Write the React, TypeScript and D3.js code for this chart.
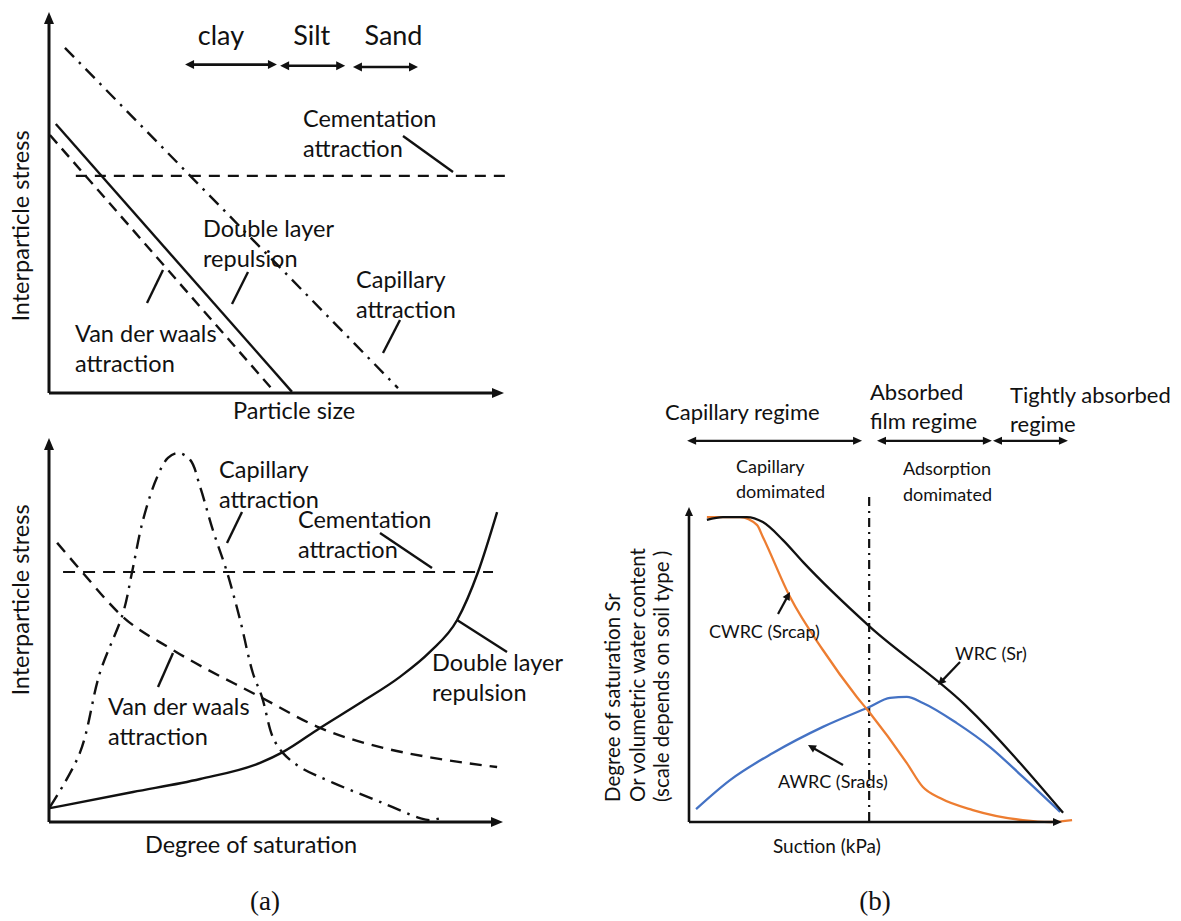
import React from "react";
import * as d3 from "d3";

type Pt = [number, number];

// ---------- (a) upper: interparticle stress vs particle size (values in % of axis length)
const sizeCapillary: Pt[] = [[3.5, 90.6], [76.7, 1.3]];
const sizeDoubleLayer: Pt[] = [[1.5, 70.6], [53.4, 0.3]];
const sizeVanDerWaals: Pt[] = [[0.2, 67.7], [49.2, 0.8]];
const sizeCementation: Pt[] = [[5.9, 57.0], [100.2, 57.0]];
const soilClasses = ["clay", "Silt", "Sand"];
const soilRanges: [number, number][] = [[29.9, 50.1], [50.8, 65.1], [66.8, 81.1]];
const soilArrowLevel = 86.2;

// ---------- (a) lower: interparticle stress vs degree of saturation
const satCapillary: Pt[] = [
  [0.2, 3.9], [6.8, 18.0], [11.2, 38.8], [16.3, 54.4], [18.3, 65.1], [20.7, 78.6],
  [23.8, 89.8], [26.2, 94.8], [28.4, 96.1], [31.1, 94.3], [33.3, 87.2], [36.1, 76.0],
  [39.2, 65.1], [42.1, 52.6], [44.9, 38.8], [46.9, 32.6], [49.3, 22.1], [51.5, 18.0],
  [55.3, 14.3], [62.6, 10.2], [73.6, 4.9], [81.7, 1.0], [83.9, 0.5], [87.2, 1.3],
];
const satVanDerWaals: Pt[] = [
  [1.8, 72.7], [7.3, 65.1], [16.3, 53.4], [27.3, 44.8], [46.5, 32.6], [59.7, 24.5],
  [73.6, 19.3], [84.6, 16.7], [98.7, 14.3],
];
const satDoubleLayer: Pt[] = [
  [0.2, 3.6], [18.5, 7.8], [33.3, 11.2], [46.5, 15.4], [51.5, 18.2], [59.7, 24.5],
  [68.5, 31.0], [77.3, 37.8], [83.9, 44.3], [89.9, 52.6], [94.5, 65.1], [98.7, 80.7],
];
const satCementation: Pt[] = [[3.1, 65.1], [97.8, 65.1]];

// ---------- (b) water retention curves vs suction
const wrcSr: Pt[] = [
  [4.8, 95.9], [9.1, 96.8], [15.5, 96.8], [19.8, 95.2], [25.2, 89.5], [30.6, 82.5],
  [48.3, 62.2], [74.0, 37.2], [100.3, 2.9],
];
const cwrcSrcap: Pt[] = [
  [4.8, 96.8], [13.7, 96.8], [18.2, 94.3], [19.8, 90.5], [27.1, 71.4], [35.9, 54.6],
  [45.0, 39.7], [48.3, 34.9], [58.4, 18.7], [62.7, 11.1], [67.3, 7.6], [76.1, 3.8],
  [89.5, 0.6], [96.8, 0.0], [102.7, 0.6],
];
const awrcSrads: Pt[] = [
  [1.9, 4.1], [11.0, 13.3], [22.5, 21.9], [35.9, 30.2], [48.3, 36.5], [53.9, 39.4],
  [58.4, 39.7], [62.7, 37.8], [71.8, 31.4], [80.7, 23.8], [89.5, 14.3], [99.5, 3.2],
];
const regimeBoundary = 48.3;
const regimeRanges: [number, number][] = [[-0.5, 46.4], [50.4, 81.2], [81.5, 101.6]];
const regimeArrowLevel = 121;

const FONT = "Lato, 'Open Sans', sans-serif";
const INK = "#111";

function headPath(x1: number, y1: number, x2: number, y2: number, len: number, half: number) {
  const a = Math.atan2(y2 - y1, x2 - x1);
  const bx = x2 - len * Math.cos(a);
  const by = y2 - len * Math.sin(a);
  const px = -Math.sin(a) * half;
  const py = Math.cos(a) * half;
  return `M${x2},${y2}L${bx + px},${by + py}L${bx - px},${by - py}Z`;
}

function Arrow({ x1, y1, x2, y2, len = 9, half = 4.5, sw = 2, both = false }: any) {
  const a = Math.atan2(y2 - y1, x2 - x1);
  const sx = both ? x1 + Math.cos(a) * len * 0.8 : x1;
  const sy = both ? y1 + Math.sin(a) * len * 0.8 : y1;
  const ex = x2 - Math.cos(a) * len * 0.8;
  const ey = y2 - Math.sin(a) * len * 0.8;
  return (
    <g>
      <line x1={sx} y1={sy} x2={ex} y2={ey} stroke={INK} strokeWidth={sw} />
      <path d={headPath(x1, y1, x2, y2, len, half)} fill={INK} />
      {both && <path d={headPath(x2, y2, x1, y1, len, half)} fill={INK} />}
    </g>
  );
}

function Label({ x, y, size, lines, lh }: { x: number; y: number; size: number; lines: string[]; lh?: number }) {
  return (
    <text x={x} y={y} fontSize={size} fontFamily={FONT} fill={INK}>
      {lines.map((t, i) => (
        <tspan key={i} x={x} dy={i === 0 ? 0 : lh ?? size * 1.3}>
          {t}
        </tspan>
      ))}
    </text>
  );
}

function Leader({ x1, y1, x2, y2 }: any) {
  return <line x1={x1} y1={y1} x2={x2} y2={y2} stroke={INK} strokeWidth={2.4} />;
}

function PanelSize() {
  const x = d3.scaleLinear().domain([0, 100]).range([49, 504]);
  const y = d3.scaleLinear().domain([0, 100]).range([393, 12]);
  const line = d3.line<Pt>().x((d) => x(d[0])).y((d) => y(d[1]));
  const fs = 23.5;
  return (
    <g>
      <path d={line(sizeCementation) ?? ""} fill="none" stroke={INK} strokeWidth={2.2} strokeDasharray="11,8" />
      <path d={line(sizeCapillary) ?? ""} fill="none" stroke={INK} strokeWidth={2.4} strokeDasharray="13,7,2.5,7" />
      <path d={line(sizeVanDerWaals) ?? ""} fill="none" stroke={INK} strokeWidth={2.4} strokeDasharray="11,7" />
      <path d={line(sizeDoubleLayer) ?? ""} fill="none" stroke={INK} strokeWidth={2.4} />
      <Arrow x1={x(0)} y1={y(0)} x2={x(0)} y2={y(100)} len={12} half={5} sw={3} />
      <Arrow x1={x(0)} y1={y(0)} x2={x(100)} y2={y(0)} len={12} half={5} sw={3} />
      {soilRanges.map((r, i) => (
        <Arrow key={i} x1={x(r[0])} y1={y(soilArrowLevel) + i * 1.2} x2={x(r[1])} y2={y(soilArrowLevel) + i * 1.2} len={9} half={4.5} sw={2.6} both />
      ))}
      {soilClasses.map((c, i) => (
        <text key={c} x={(x(soilRanges[i][0]) + x(soilRanges[i][1])) / 2 + [-10, -1, 8][i]} y={45} fontSize={27} fontFamily={FONT} fill={INK} textAnchor="middle">
          {c}
        </text>
      ))}
      <Label x={303} y={127} size={fs} lh={30} lines={["Cementation", "attraction"]} />
      <Leader x1={403} y1={136} x2={453} y2={172} />
      <Label x={203} y={237} size={fs} lh={30} lines={["Double layer", "repulsion"]} />
      <Leader x1={248} y1={272} x2={232} y2={304} />
      <Label x={356} y={288} size={fs} lh={30} lines={["Capillary", "attraction"]} />
      <Leader x1={400} y1={320} x2={383} y2={353} />
      <Label x={75} y={342} size={fs} lh={30} lines={["Van der waals", "attraction"]} />
      <Leader x1={163} y1={270} x2={147} y2={303} />
      <text x={233} y={419} fontSize={fs} fontFamily={FONT} fill={INK}>Particle size</text>
      <text transform="translate(29,226) rotate(-90)" textAnchor="middle" fontSize={fs} fontFamily={FONT} fill={INK}>
        Interparticle stress
      </text>
    </g>
  );
}

function PanelSaturation() {
  const x = d3.scaleLinear().domain([0, 100]).range([49, 503]);
  const y = d3.scaleLinear().domain([0, 100]).range([822, 438]);
  const straight = d3.line<Pt>().x((d) => x(d[0])).y((d) => y(d[1]));
  const monotone = d3.line<Pt>().x((d) => x(d[0])).y((d) => y(d[1])).curve(d3.curveMonotoneX);
  const smooth = d3.line<Pt>().x((d) => x(d[0])).y((d) => y(d[1])).curve(d3.curveCatmullRom.alpha(0.5));
  const fs = 23.5;
  return (
    <g>
      <path d={straight(satCementation) ?? ""} fill="none" stroke={INK} strokeWidth={2.2} strokeDasharray="12,8" />
      <path d={monotone(satVanDerWaals) ?? ""} fill="none" stroke={INK} strokeWidth={2.4} strokeDasharray="12,8" />
      <path d={smooth(satCapillary) ?? ""} fill="none" stroke={INK} strokeWidth={2.4} strokeDasharray="14,7,2.5,7" />
      <path d={monotone(satDoubleLayer) ?? ""} fill="none" stroke={INK} strokeWidth={2.4} />
      <Arrow x1={x(0)} y1={y(0)} x2={x(0)} y2={y(100)} len={12} half={5} sw={3} />
      <Arrow x1={x(0)} y1={y(0)} x2={x(100)} y2={y(0)} len={12} half={5} sw={3} />
      <Label x={219} y={478} size={fs} lh={30} lines={["Capillary", "attraction"]} />
      <Leader x1={242} y1={512} x2={227} y2={543} />
      <Label x={298} y={528} size={fs} lh={30} lines={["Cementation", "attraction"]} />
      <Leader x1={380} y1={533} x2={432} y2={568} />
      <Label x={432} y={671} size={fs} lh={30} lines={["Double layer", "repulsion"]} />
      <Leader x1={457} y1={620} x2={507} y2={652} />
      <Label x={108} y={715} size={fs} lh={30} lines={["Van der waals", "attraction"]} />
      <Leader x1={173} y1={653} x2={158} y2={687} />
      <text x={145} y={853} fontSize={fs} fontFamily={FONT} fill={INK}>Degree of saturation</text>
      <text transform="translate(29,600) rotate(-90)" textAnchor="middle" fontSize={fs} fontFamily={FONT} fill={INK}>
        Interparticle stress
      </text>
    </g>
  );
}

function PanelRetention() {
  const x = d3.scaleLinear().domain([0, 100]).range([689, 1062]);
  const y = d3.scaleLinear().domain([0, 100]).range([822, 507]);
  const curve = d3.line<Pt>().x((d) => x(d[0])).y((d) => y(d[1])).curve(d3.curveMonotoneX);
  const big = 22;
  const small = 18;
  return (
    <g>
      <line x1={x(regimeBoundary)} x2={x(regimeBoundary)} y1={y(103.2)} y2={y(0)} stroke={INK} strokeWidth={2.2} strokeDasharray="9,5,2,5" />
      <path d={curve(awrcSrads) ?? ""} fill="none" stroke="#4472C4" strokeWidth={2.3} />
      <path d={curve(cwrcSrcap) ?? ""} fill="none" stroke="#ED7D31" strokeWidth={2.3} />
      <path d={curve(wrcSr) ?? ""} fill="none" stroke={INK} strokeWidth={2.3} />
      <Arrow x1={x(0)} y1={y(0)} x2={x(0)} y2={y(100)} len={9} half={4} sw={2.6} />
      <Arrow x1={x(0)} y1={y(0)} x2={x(100)} y2={y(0)} len={9} half={4} sw={2.6} />
      {regimeRanges.map((r, i) => (
        <Arrow key={i} x1={x(r[0])} y1={y(regimeArrowLevel)} x2={x(r[1])} y2={y(regimeArrowLevel)} len={9} half={4} sw={2.3} both />
      ))}
      <text x={665} y={420} fontSize={big} fontFamily={FONT} fill={INK}>Capillary regime</text>
      <Label x={870} y={400} size={big} lh={29} lines={["Absorbed", "film regime"]} />
      <Label x={1010} y={403} size={big} lh={29} lines={["Tightly absorbed", "regime"]} />
      <Label x={736} y={473} size={small} lh={25} lines={["Capillary", "domimated"]} />
      <Label x={903} y={475} size={small} lh={26} lines={["Adsorption", "domimated"]} />
      <text x={709} y={638} fontSize={small} fontFamily={FONT} fill={INK}>CWRC (Srcap)</text>
      <Arrow x1={778} y1={614} x2={790} y2={592} len={8} half={4} sw={2.2} />
      <text x={955} y={660} fontSize={small} fontFamily={FONT} fill={INK}>WRC (Sr)</text>
      <Arrow x1={960} y1={662} x2={938} y2={685} len={8} half={4} sw={2.2} />
      <text x={778} y={788} fontSize={small} fontFamily={FONT} fill={INK}>AWRC (Srads)</text>
      <Arrow x1={843} y1={765} x2={808} y2={745} len={8} half={4} sw={2.2} />
      <text x={773} y={853} fontSize={19} fontFamily={FONT} fill={INK}>Suction (kPa)</text>
      {["Degree of saturation Sr", "Or volumetric water content", "(scale depends on soil type )"].map((t, i) => (
        <text key={i} transform={`translate(${620 + i * 24.5},802) rotate(-90)`} fontSize={20.5} fontFamily={FONT} fill={INK}>
          {t}
        </text>
      ))}
    </g>
  );
}

export default function App() {
  return (
    <svg width={1181} height={921} style={{ position: "absolute", left: 0, top: 0, background: "#fff" }}>
      <rect width={1181} height={921} fill="#fff" />
      <PanelSize />
      <PanelSaturation />
      <PanelRetention />
      <text x={265} y={910} textAnchor="middle" fontSize={27} fontFamily="'Liberation Serif', 'DejaVu Serif', serif" fill={INK}>(a)</text>
      <text x={875} y={910} textAnchor="middle" fontSize={27} fontFamily="'Liberation Serif', 'DejaVu Serif', serif" fill={INK}>(b)</text>
    </svg>
  );
}
